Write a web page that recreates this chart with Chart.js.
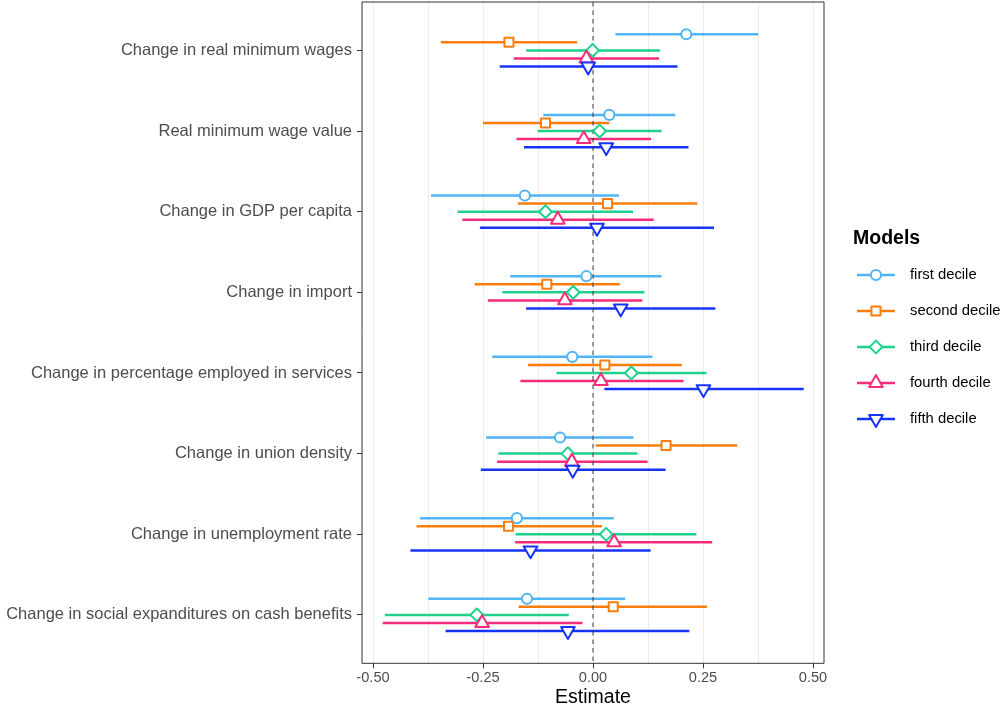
<!DOCTYPE html>
<html>
<head>
<meta charset="utf-8">
<title>Estimates by decile model</title>
<script src="https://cdn.jsdelivr.net/npm/chart.js@4.4.1/dist/chart.umd.min.js"></script>
<style>
  html, body { margin: 0; padding: 0; background: #ffffff; }
  #wrap { width: 1002px; height: 707px; }
</style>
</head>
<body>
<div id="wrap"><canvas id="chart" width="1002" height="707"></canvas></div>
<script>
// ---- data -------------------------------------------------------------
const categories = [
  'Change in real minimum wages',
  'Real minimum wage value',
  'Change in GDP per capita',
  'Change in import',
  'Change in percentage employed in services',
  'Change in union density',
  'Change in unemployment rate',
  'Change in social expanditures on cash benefits'
];

const seriesNames = ['first decile', 'second decile', 'third decile', 'fourth decile', 'fifth decile'];

const firstEst  = [ 0.212,  0.037, -0.155, -0.015, -0.047, -0.075, -0.173, -0.150];
const firstLow  = [ 0.051, -0.113, -0.368, -0.188, -0.229, -0.243, -0.393, -0.374];
const firstHigh = [ 0.375,  0.187,  0.059,  0.156,  0.135,  0.092,  0.047,  0.073];

const secondEst  = [-0.191, -0.108,  0.033, -0.105,  0.027,  0.166, -0.192,  0.046];
const secondLow  = [-0.346, -0.250, -0.171, -0.269, -0.148,  0.006, -0.401, -0.169];
const secondHigh = [-0.036,  0.037,  0.237,  0.061,  0.202,  0.328,  0.020,  0.259];

const thirdEst  = [-0.001,  0.015, -0.108, -0.045,  0.087, -0.057,  0.030, -0.264];
const thirdLow  = [-0.152, -0.126, -0.308, -0.206, -0.083, -0.215, -0.176, -0.473];
const thirdHigh = [ 0.152,  0.156,  0.091,  0.117,  0.258,  0.101,  0.235, -0.055];

const fourthEst  = [-0.015, -0.021, -0.080, -0.064,  0.018, -0.048,  0.048, -0.252];
const fourthLow  = [-0.180, -0.174, -0.297, -0.239, -0.165, -0.218, -0.177, -0.478];
const fourthHigh = [ 0.150,  0.132,  0.138,  0.112,  0.206,  0.124,  0.271, -0.024];

const fifthEst  = [-0.011,  0.030,  0.009,  0.063,  0.251, -0.046, -0.142, -0.057];
const fifthLow  = [-0.212, -0.157, -0.257, -0.152,  0.026, -0.255, -0.415, -0.335];
const fifthHigh = [ 0.192,  0.217,  0.275,  0.278,  0.479,  0.165,  0.131,  0.219];

const xTickValues = [-0.5, -0.25, 0, 0.25, 0.5];
const xTickLabels = ['-0.50', '-0.25', '0.00', '0.25', '0.50'];
const referenceValue = 0;

// ---- styling ------------------------------------------------------------
const seriesColors = ['#4fb5f5', '#fb7d0c', '#1fd28b', '#f62b7b', '#1534f8'];
const markerStyles = [
  { pointStyle: 'circle',   radius: 5.1, rotation: 0 },
  { pointStyle: 'rect',     radius: 6.4, rotation: 0 },
  { pointStyle: 'rectRot',  radius: 6.4, rotation: 0 },
  { pointStyle: 'triangle', radius: 7.9, rotation: 0 },
  { pointStyle: 'triangle', radius: 7.9, rotation: 180 }
];
const markerStroke = 2;
const intervalWidth = 2.5;
const DODGE = 0.1;

Chart.defaults.font.family = "'Liberation Sans', Arial, Helvetica, sans-serif";

const series = [
  { name: seriesNames[0], est: firstEst,  low: firstLow,  high: firstHigh },
  { name: seriesNames[1], est: secondEst, low: secondLow, high: secondHigh },
  { name: seriesNames[2], est: thirdEst,  low: thirdLow,  high: thirdHigh },
  { name: seriesNames[3], est: fourthEst, low: fourthLow, high: fourthHigh },
  { name: seriesNames[4], est: fifthEst,  low: fifthLow,  high: fifthHigh }
];

// vertical slot of series s inside category c (category c sits at c + 1)
const rowPos = (c, s) => (c + 1) + (s - (series.length - 1) / 2) * DODGE;

const yMin = 0.4;
const yMax = categories.length + 0.6;

const datasets = [];

// interval segments, one broken line per model
series.forEach((s, si) => {
  const pts = [];
  categories.forEach((_, ci) => {
    const y = rowPos(ci, si);
    pts.push({ x: s.low[ci], y }, { x: s.high[ci], y }, { x: null, y: null });
  });
  datasets.push({
    label: s.name + ' interval',
    data: pts,
    showLine: true,
    spanGaps: false,
    borderColor: seriesColors[si],
    borderWidth: intervalWidth,
    borderCapStyle: 'butt',
    pointRadius: 0,
    pointHoverRadius: 0,
    order: 20 + si
  });
});

// dashed reference line at zero
datasets.push({
  label: 'reference',
  data: [{ x: referenceValue, y: yMin }, { x: referenceValue, y: yMax }],
  showLine: true,
  borderColor: '#3a3a3a',
  borderWidth: 1,
  borderDash: [4.5, 4],
  pointRadius: 0,
  pointHoverRadius: 0,
  order: 15
});

// point estimates
series.forEach((s, si) => {
  const m = markerStyles[si];
  datasets.push({
    label: s.name,
    data: s.est.map((v, ci) => ({ x: v, y: rowPos(ci, si) })),
    showLine: false,
    pointStyle: m.pointStyle,
    pointRotation: m.rotation,
    pointRadius: m.radius,
    pointHoverRadius: m.radius,
    pointBorderWidth: markerStroke,
    pointHoverBorderWidth: markerStroke,
    pointBorderColor: seriesColors[si],
    pointBackgroundColor: '#ffffff',
    order: 5 - si
  });
});

// ---- legend keys: a short interval line with the model's marker ---------
function traceMarker(ctx, style, r, rot, x, y) {
  ctx.beginPath();
  if (style === 'circle') {
    ctx.arc(x, y, r, 0, Math.PI * 2);
  } else if (style === 'rect') {
    const h = r * Math.SQRT1_2;
    ctx.rect(x - h, y - h, 2 * h, 2 * h);
  } else if (style === 'rectRot') {
    ctx.moveTo(x - r, y); ctx.lineTo(x, y - r); ctx.lineTo(x + r, y); ctx.lineTo(x, y + r);
    ctx.closePath();
  } else {
    let a = rot * Math.PI / 180;
    ctx.moveTo(x + Math.sin(a) * r, y - Math.cos(a) * r);
    a += 2 * Math.PI / 3;
    ctx.lineTo(x + Math.sin(a) * r, y - Math.cos(a) * r);
    a += 2 * Math.PI / 3;
    ctx.lineTo(x + Math.sin(a) * r, y - Math.cos(a) * r);
    ctx.closePath();
  }
}

const KEY_W = 63, KEY_H = 24, KEY_LINE = 38;
const keyImages = series.map((s, si) => {
  const c = document.createElement('canvas');
  c.width = KEY_W; c.height = KEY_H;
  const k = c.getContext('2d');
  k.lineJoin = 'round';
  k.strokeStyle = seriesColors[si];
  k.lineWidth = intervalWidth;
  k.beginPath(); k.moveTo(0, KEY_H / 2); k.lineTo(KEY_LINE, KEY_H / 2); k.stroke();
  const m = markerStyles[si];
  traceMarker(k, m.pointStyle, m.radius, m.rotation, KEY_LINE / 2, KEY_H / 2);
  k.fillStyle = '#ffffff'; k.fill();
  k.lineWidth = markerStroke; k.stroke();
  return c;
});

// ---- panel frame and marker joins ---------------------------------------
const panelFrame = {
  id: 'panelFrame',
  beforeDatasetsDraw(chart) { chart.ctx.lineJoin = 'round'; },
  afterDraw(chart) {
    const { ctx, chartArea: a } = chart;
    ctx.save();
    ctx.strokeStyle = '#333333';
    ctx.lineWidth = 1;
    ctx.strokeRect(a.left, a.top, a.right - a.left, a.bottom - a.top);
    ctx.restore();
  }
};

// the panel edges are set by the layout padding, not by label overhang
const noOverhang = () => ({ left: 0, top: 0, right: 0, bottom: 0 });

const isMajor = v => xTickValues.some(t => Math.abs(t - v) < 1e-9);

new Chart(document.getElementById('chart'), {
  type: 'scatter',
  data: { datasets },
  plugins: [panelFrame],
  options: {
    responsive: false,
    devicePixelRatio: 1,
    animation: false,
    events: [],
    layout: { autoPadding: false, padding: { left: 5, right: 0, top: 2, bottom: 0 } },
    scales: {
      x: {
        type: 'linear',
        min: -0.525,
        max: 0.525,
        afterFit: sc => { sc.getPadding = noOverhang; },
        border: { display: false },
        grid: {
          color: '#ebebeb',
          lineWidth: 1,
          tickLength: 5,
          tickWidth: 1,
          tickColor: ctx => (ctx.tick && isMajor(ctx.tick.value)) ? '#333333' : 'rgba(0,0,0,0)'
        },
        ticks: {
          stepSize: 0.125,
          includeBounds: false,
          autoSkip: false,
          maxRotation: 0,
          padding: 2,
          color: '#4d4d4d',
          font: { size: 14.6, lineHeight: 1 },
          callback: v => {
            const i = xTickValues.findIndex(t => Math.abs(t - v) < 1e-9);
            return i >= 0 ? xTickLabels[i] : '';
          }
        },
        title: {
          display: true,
          text: 'Estimate',
          color: '#000000',
          font: { size: 19.5, lineHeight: 1 },
          padding: { top: 0.6, bottom: 0 }
        }
      },
      y: {
        type: 'linear',
        reverse: true,
        min: yMin,
        max: yMax,
        afterFit: sc => {
          sc.width = 357;
          sc.paddingTop = 0;
          sc.paddingBottom = 0;
          sc.getPadding = noOverhang;
        },
        border: { display: false },
        grid: {
          display: true,
          drawOnChartArea: false,
          drawTicks: true,
          tickLength: 5,
          color: '#333333',
          tickColor: '#333333',
          tickWidth: 1
        },
        ticks: {
          stepSize: 1,
          includeBounds: false,
          autoSkip: false,
          padding: 5,
          color: '#4d4d4d',
          font: { size: 16.5 },
          callback: v => Number.isInteger(v) ? categories[v - 1] : null
        }
      },
      gap: {
        type: 'linear',
        position: 'right',
        display: true,
        border: { display: false },
        grid: { display: false },
        ticks: { display: false },
        afterFit: sc => {
          sc.width = 29;
          sc.paddingTop = 0;
          sc.paddingBottom = 0;
          sc.getPadding = noOverhang;
        }
      }
    },
    plugins: {
      tooltip: { enabled: false },
      legend: {
        position: 'right',
        align: 'start',
        maxWidth: 149,
        title: {
          display: true,
          text: 'Models',
          position: 'start',
          color: '#000000',
          font: { size: 19.5, weight: 'bold', lineHeight: 1 },
          padding: { top: 226.5, bottom: -1.6 }
        },
        labels: {
          usePointStyle: true,
          pointStyleWidth: 28.4,
          padding: 21.2,
          color: '#1a1a1a',
          font: { size: 14.8 },
          generateLabels: () => series.map((s, si) => ({
            text: s.name,
            pointStyle: keyImages[si],
            fillStyle: 'rgba(0,0,0,0)',
            strokeStyle: 'rgba(0,0,0,0)',
            lineWidth: 0,
            hidden: false,
            rotation: 0,
            datasetIndex: si
          }))
        }
      }
    }
  }
});
</script>
</body>
</html>
